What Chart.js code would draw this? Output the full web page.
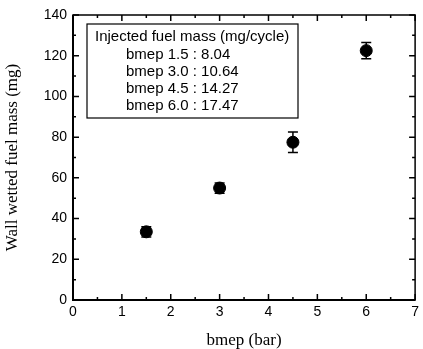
<!DOCTYPE html>
<html><head><meta charset="utf-8">
<script src="https://cdn.jsdelivr.net/npm/chart.js@4/dist/chart.umd.min.js"></script>
<style>html,body{margin:0;padding:0;background:#fff;}#wrap{width:423px;height:349px;}</style>
</head><body><div id="wrap"><canvas id="c" width="423" height="349"></canvas></div>
<script>
const bmep = [1.5, 3.0, 4.5, 6.0];
const wallWettedMass = [33.5, 55, 77.5, 122.5];
const errorBar = [2.5, 2.5, 5, 4];
const legendTitle = 'Injected fuel mass (mg/cycle)';
const legendLabels = ['bmep 1.5 : 8.04', 'bmep 3.0 : 10.64', 'bmep 4.5 : 14.27', 'bmep 6.0 : 17.47'];
const xTitle = 'bmep (bar)';
const yTitle = 'Wall wetted fuel mass (mg)';
const xRange = [0, 7];
const yRange = [0, 140];

const sans = "'Liberation Sans', Arial, sans-serif";
const serif = "'Liberation Serif', 'Times New Roman', serif";

const decor = {
  id: 'decor',
  beforeDatasetsDraw(chart) {
    const ctx = chart.ctx, xs = chart.scales.x, ys = chart.scales.y;
    ctx.save();
    ctx.strokeStyle = '#000';
    ctx.lineWidth = 1.5;
    for (let i = 0; i < bmep.length; i++) {
      const x = xs.getPixelForValue(bmep[i]);
      const yT = ys.getPixelForValue(wallWettedMass[i] + errorBar[i]);
      const yB = ys.getPixelForValue(wallWettedMass[i] - errorBar[i]);
      ctx.beginPath();
      ctx.moveTo(x, yT); ctx.lineTo(x, yB);
      ctx.moveTo(x - 5, yT); ctx.lineTo(x + 5, yT);
      ctx.moveTo(x - 5, yB); ctx.lineTo(x + 5, yB);
      ctx.stroke();
    }
    ctx.restore();
  },
  afterDraw(chart) {
    const ctx = chart.ctx, xs = chart.scales.x, ys = chart.scales.y, a = chart.chartArea;
    ctx.save();
    ctx.strokeStyle = '#000';
    // frame
    ctx.lineWidth = 1.5;
    ctx.strokeRect(a.left, a.top, a.right - a.left, a.bottom - a.top);
    ctx.lineWidth = 2;
    ctx.beginPath();
    ctx.moveTo(a.left, a.top); ctx.lineTo(a.left, a.bottom); ctx.lineTo(a.right, a.bottom);
    ctx.stroke();
    // ticks
    ctx.lineWidth = 1.5;
    ctx.beginPath();
    for (let v = xRange[0]; v <= xRange[1]; v += 0.5) {
      const x = xs.getPixelForValue(v);
      const len = Number.isInteger(v) ? 6 : 3;
      ctx.moveTo(x, a.bottom); ctx.lineTo(x, a.bottom - len);
      ctx.moveTo(x, a.top); ctx.lineTo(x, a.top + len);
    }
    for (let v = yRange[0]; v <= yRange[1]; v += 10) {
      const y = ys.getPixelForValue(v);
      const len = (v % 20 === 0) ? 6 : 3;
      ctx.moveTo(a.left, y); ctx.lineTo(a.left + len, y);
      ctx.moveTo(a.right, y); ctx.lineTo(a.right - len, y);
    }
    ctx.stroke();
    // legend box
    const bx = a.left + 14, by = a.top + 9, bw = 211, bh = 94;
    ctx.fillStyle = '#fff';
    ctx.fillRect(bx, by, bw, bh);
    ctx.lineWidth = 1.2;
    ctx.strokeRect(bx, by, bw, bh);
    ctx.fillStyle = '#000';
    ctx.font = '15px ' + sans;
    ctx.textBaseline = 'middle';
    ctx.textAlign = 'left';
    ctx.fillText(legendTitle, bx + 8, by + 13);
    legendLabels.forEach((t, i) => ctx.fillText(t, bx + 39, by + 31 + i * 17));
    ctx.restore();
  }
};

new Chart(document.getElementById('c'), {
  type: 'scatter',
  data: {
    datasets: [{
      data: bmep.map((x, i) => ({ x, y: wallWettedMass[i] })),
      backgroundColor: '#000',
      borderColor: '#000',
      pointRadius: 6,
      pointHoverRadius: 6
    }]
  },
  options: {
    responsive: false,
    animation: false,
    devicePixelRatio: 1,
    layout: { padding: { top: 15, right: 5, left: 0, bottom: 0 } },
    plugins: { legend: { display: false }, tooltip: { enabled: false } },
    scales: {
      x: {
        type: 'linear', min: xRange[0], max: xRange[1],
        grid: { display: false, drawTicks: false },
        border: { display: false },
        ticks: { stepSize: 1, color: '#000', font: { family: sans, size: 14 }, padding: 4 },
        title: { display: true, text: xTitle, color: '#000', font: { family: serif, size: 17, lineHeight: 1 }, padding: 0 },
        afterFit(s) { s.height = 49; }
      },
      y: {
        type: 'linear', min: yRange[0], max: yRange[1],
        grid: { display: false, drawTicks: false },
        border: { display: false },
        ticks: { stepSize: 20, color: '#000', font: { family: sans, size: 14 }, padding: 6 },
        title: { display: true, text: yTitle, color: '#000', font: { family: serif, size: 17, lineHeight: 1 }, padding: 4 },
        afterFit(s) { s.width = 73; }
      }
    }
  },
  plugins: [decor]
});
</script></body></html>
